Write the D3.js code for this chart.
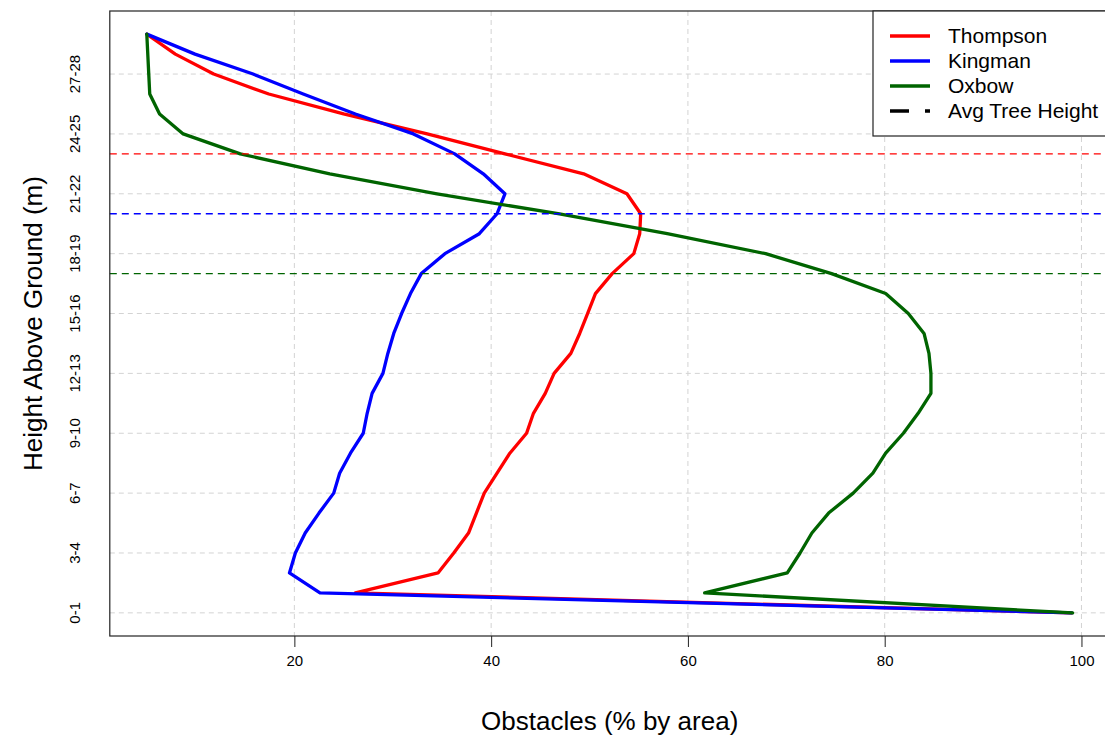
<!DOCTYPE html>
<html>
<head>
<meta charset="utf-8">
<script src="https://cdn.jsdelivr.net/npm/d3@7"></script>
<style>
  html, body { margin: 0; padding: 0; background: #fff; }
  svg { display: block; font-family: "Liberation Sans", Arial, sans-serif; }
</style>
</head>
<body>
<svg id="chart" width="1105" height="738"></svg>
<script>
// ---- data ----
const levels = [0,1,2,3,4,5,6,7,8,9,10,11,12,13,14,15,16,17,18,19,20,21,22,23,24,25,26,27,28,29];
const thompson = [99.0,26.2,34.6,36.2,37.7,38.5,39.3,40.6,41.9,43.6,44.3,45.5,46.4,48.1,49.0,49.8,50.6,52.3,54.5,55.1,55.2,53.8,49.4,41.4,33.5,25.0,17.4,11.8,7.9,5.0];
const kingman  = [99.0,22.6,19.5,20.1,21.1,22.5,24.0,24.6,25.7,27.0,27.4,27.9,29.0,29.5,30.1,30.9,31.8,32.9,35.3,38.8,40.6,41.4,39.2,36.3,32.1,26.2,20.9,15.8,9.9,5.0];
const oxbow    = [99.1,61.7,70.1,71.4,72.6,74.3,76.8,78.8,80.1,81.9,83.4,84.7,84.7,84.5,84.0,82.4,80.1,74.6,67.9,57.9,46.8,34.5,23.6,14.5,8.7,6.3,5.3,5.2,5.1,5.0];
const seriesNames = ["Thompson","Kingman","Oxbow"];
const seriesColors = ["#FF0000","#0000FF","#006400"];
const treeHeights = [23, 20, 17];   // avg tree height (level units) for Thompson, Kingman, Oxbow
const xTicks = [20, 40, 60, 80, 100];
const yTickPos = [0,3,6,9,12,15,18,21,24,27];
const yTickLabels = ["0-1","3-4","6-7","9-10","12-13","15-16","18-19","21-22","24-25","27-28"];
const legendLabels = ["Thompson","Kingman","Oxbow","Avg Tree Height"];

// ---- layout ----
const svg = d3.select("#chart");
const pL = 109.8, pR = 1109.6, pT = 11, pB = 636;
const x = d3.scaleLinear().domain([1.24, 102.86]).range([pL, pR]);
const y = d3.scaleLinear().domain([-1.16, 30.16]).range([pB, pT]);

// grid
const grid = svg.append("g");
grid.selectAll("line.vg").data(xTicks).enter().append("line")
  .attr("x1", d => x(d)).attr("x2", d => x(d))
  .attr("y1", pT).attr("y2", pB)
  .attr("stroke", "#d3d3d3").attr("stroke-width", 1).attr("stroke-dasharray", "5,4");
grid.selectAll("line.hg").data(yTickPos).enter().append("line")
  .attr("x1", pL).attr("x2", pR)
  .attr("y1", d => y(d)).attr("y2", d => y(d))
  .attr("stroke", "#d3d3d3").attr("stroke-width", 1).attr("stroke-dasharray", "5,4");

// series
const all = [thompson, kingman, oxbow];
const line = d3.line().x(d => x(d[0])).y(d => y(d[1]));
all.forEach((vals, i) => {
  svg.append("path")
    .datum(vals.map((v, j) => [v, levels[j]]))
    .attr("d", line)
    .attr("fill", "none")
    .attr("stroke", seriesColors[i])
    .attr("stroke-width", 3.3)
    .attr("stroke-linejoin", "round")
    .attr("stroke-linecap", "round");
});

// tree height lines
svg.selectAll("line.th").data(treeHeights).enter().append("line")
  .attr("x1", pL).attr("x2", pR)
  .attr("y1", d => y(d)).attr("y2", d => y(d))
  .attr("stroke", (d, i) => seriesColors[i])
  .attr("stroke-width", 1.3)
  .attr("stroke-dasharray", "7,5");

// box
svg.append("rect")
  .attr("x", pL).attr("y", pT)
  .attr("width", pR - pL).attr("height", pB - pT)
  .attr("fill", "none").attr("stroke", "#222").attr("stroke-width", 1.2);

// x axis
const xAxis = d3.axisBottom(x).tickValues(xTicks).tickSize(11).tickPadding(8);
const gx = svg.append("g").attr("transform", `translate(0,${pB})`).call(xAxis);
gx.select(".domain").remove();
gx.selectAll(".tick line").attr("stroke", "#222");
gx.selectAll(".tick text").attr("font-size", 15).attr("fill", "#000")
  .attr("font-family", "Liberation Sans, Arial, sans-serif");

// y axis (labels only, rotated)
const gy = svg.append("g");
gy.selectAll("text").data(yTickPos).enter().append("text")
  .attr("transform", d => `translate(80,${y(d)}) rotate(-90)`)
  .attr("text-anchor", "middle")
  .attr("font-size", 15)
  .text((d, i) => yTickLabels[i]);

// axis titles
svg.append("text")
  .attr("x", (pL + pR) / 2).attr("y", 730)
  .attr("text-anchor", "middle").attr("font-size", 26)
  .text("Obstacles (% by area)");
svg.append("text")
  .attr("transform", `translate(42,${(pT + pB) / 2}) rotate(-90)`)
  .attr("text-anchor", "middle").attr("font-size", 26)
  .text("Height Above Ground (m)");

// legend
const lg = svg.append("g");
lg.append("rect").attr("x", 873).attr("y", pT).attr("width", 260).attr("height", 125)
  .attr("fill", "#fff").attr("stroke", "#222").attr("stroke-width", 1.2);
legendLabels.forEach((lab, i) => {
  const yy = 36 + i * 25;
  const ln = lg.append("line").attr("x1", 890).attr("x2", 930)
    .attr("y1", yy).attr("y2", yy)
    .attr("stroke", i < 3 ? seriesColors[i] : "#000")
    .attr("stroke-width", 3.3);
  if (i === 3) ln.attr("stroke-dasharray", "19,16");
  lg.append("text").attr("x", 948).attr("y", yy + 7)
    .attr("font-size", 21).text(lab);
});
</script>
</body>
</html>
